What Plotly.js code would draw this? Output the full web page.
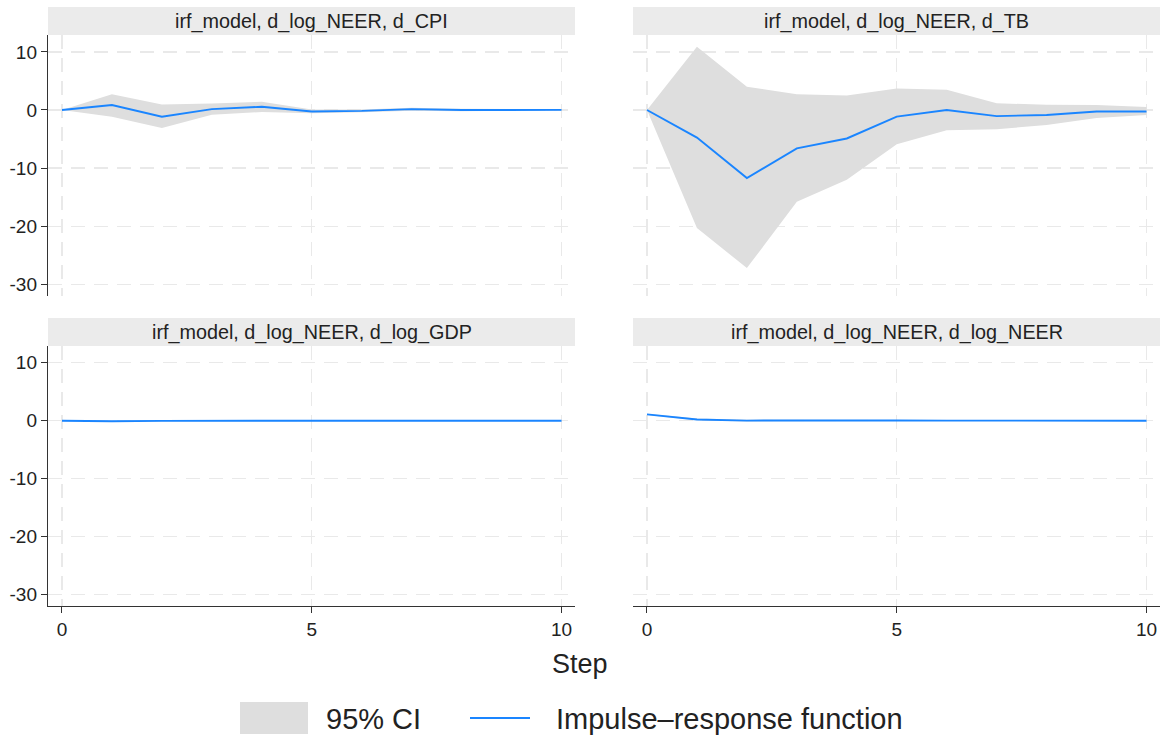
<!DOCTYPE html>
<html>
<head>
<meta charset="utf-8">
<script src="https://cdn.plot.ly/plotly-3.0.1.min.js"></script>
<style>html,body{margin:0;padding:0;background:#fff;}#chart{width:1164px;height:740px;}</style>
</head>
<body>
<div id="chart"></div>
<script>
// ---- data ----
const steps = [0, 1, 2, 3, 4, 5, 6, 7, 8, 9, 10];
const panelTitles = ["irf_model, d_log_NEER, d_CPI", "irf_model, d_log_NEER, d_TB",
                     "irf_model, d_log_NEER, d_log_GDP", "irf_model, d_log_NEER, d_log_NEER"];
const cpiIrf = [0, 0.85, -1.15, 0.15, 0.55, -0.25, -0.15, 0.15, 0.0, -0.02, 0.02];
const cpiLo  = [0, -1.15, -3.1, -0.8, -0.35, -0.55, -0.4, -0.15, -0.2, -0.15, -0.1];
const cpiHi  = [0, 2.7, 0.95, 1.1, 1.4, 0.1, 0.1, 0.4, 0.2, 0.12, 0.12];
const tbIrf  = [0, -4.75, -11.7, -6.6, -4.9, -1.15, 0, -1.05, -0.85, -0.25, -0.25];
const tbLo   = [0, -20.3, -27.2, -15.8, -12.0, -5.9, -3.5, -3.3, -2.6, -1.4, -0.85];
const tbHi   = [0, 10.9, 4.0, 2.7, 2.5, 3.7, 3.5, 1.15, 0.9, 0.85, 0.5];
const gdpIrf = [0, -0.1, -0.03, 0.0, 0.01, 0.0, 0.0, 0.0, 0.0, 0.0, 0.0];
const gdpLo  = [0, -0.18, -0.1, -0.06, -0.05, -0.04, -0.03, -0.03, -0.02, -0.02, -0.02];
const gdpHi  = [0, -0.02, 0.04, 0.06, 0.07, 0.04, 0.03, 0.03, 0.02, 0.02, 0.02];
const neerIrf = [1.1, 0.22, 0.02, 0.06, 0.08, 0.04, 0.02, 0.01, 0.01, 0.0, 0.0];
const neerLo  = [1.0, 0.08, -0.12, -0.05, -0.03, -0.04, -0.04, -0.03, -0.02, -0.02, -0.01];
const neerHi  = [1.2, 0.36, 0.16, 0.17, 0.19, 0.12, 0.08, 0.05, 0.04, 0.02, 0.01];
const xTicks = [0, 5, 10];
const yTicks = [-30, -20, -10, 0, 10];
const yTickText = ["-30", "-20", "-10", "0", "10"];
const legendLabels = ["95% CI", "Impulse\u2013response function"];
const xTitle = "Step";

// ---- style ----
const FONT = "Liberation Sans, Arial, sans-serif";
const LINE = "#1a85ff";
const BAND = "#dedede";
const GRID = "#e9e9e9";
const W = 1164, H = 740;

const panels = [
  {irf: cpiIrf, lo: cpiLo, hi: cpiHi},
  {irf: tbIrf, lo: tbLo, hi: tbHi},
  {irf: gdpIrf, lo: gdpLo, hi: gdpHi},
  {irf: neerIrf, lo: neerLo, hi: neerHi}
];
// pixel boxes [x0,x1,y0,y1] of plot areas
const boxes = [[48, 575, 35, 296], [633, 1160, 35, 296], [48, 575, 346, 606], [633, 1160, 346, 606]];

const traces = [];
const layout = {
  width: W, height: H, margin: {l: 0, r: 0, t: 0, b: 0},
  paper_bgcolor: "#fff", plot_bgcolor: "#fff", showlegend: false,
  font: {family: FONT, color: "#222"},
  shapes: [], annotations: []
};

panels.forEach((p, i) => {
  const n = i + 1;
  const xa = n === 1 ? "x" : "x" + n, ya = n === 1 ? "y" : "y" + n;
  traces.push({x: steps, y: p.lo, xaxis: xa, yaxis: ya, type: "scatter", mode: "lines",
               line: {width: 0, color: BAND}, hoverinfo: "skip"});
  traces.push({x: steps, y: p.hi, xaxis: xa, yaxis: ya, type: "scatter", mode: "lines",
               fill: "tonexty", fillcolor: BAND, line: {width: 0, color: BAND}, hoverinfo: "skip"});
  traces.push({x: steps, y: p.irf, xaxis: xa, yaxis: ya, type: "scatter", mode: "lines",
               line: {width: 1.9, color: LINE}});
  const b = boxes[i];
  const left = (i % 2 === 0), bottom = (i >= 2);
  layout[n === 1 ? "xaxis" : "xaxis" + n] = {
    domain: [b[0] / W, b[1] / W], anchor: ya, range: [-0.28, 10.27],
    tickvals: xTicks, showticklabels: bottom, ticks: bottom ? "outside" : "", ticklen: 6,
    tickcolor: "#333", showline: bottom, linecolor: "#333", linewidth: 1.2,
    showgrid: true, gridcolor: GRID, griddash: "14px,9px", gridwidth: 1.3, zeroline: false,
    tickfont: {size: 19, family: FONT, color: "#222"}
  };
  layout[n === 1 ? "yaxis" : "yaxis" + n] = {
    domain: [1 - b[3] / H, 1 - b[2] / H], anchor: xa, range: [-32, 12.9],
    tickvals: yTicks, ticktext: yTickText, showticklabels: left, ticks: left ? "outside" : "", ticklen: 6,
    tickcolor: "#333", showline: left, linecolor: "#333", linewidth: 1.2,
    showgrid: true, gridcolor: GRID, griddash: "14px,9px", gridwidth: 1.3, zeroline: false,
    tickfont: {size: 19, family: FONT, color: "#222"}
  };
  // title strip
  layout.shapes.push({type: "rect", xref: "paper", yref: "paper", layer: "below",
    x0: b[0] / W, x1: b[1] / W, y0: 1 - b[2] / H, y1: 1 - (b[2] - 28) / H,
    fillcolor: "#ebebeb", line: {width: 0}});
  layout.annotations.push({xref: "paper", yref: "paper", x: (b[0] + b[1]) / 2 / W,
    y: 1 - (b[2] - 14) / H, xanchor: "center", yanchor: "middle", showarrow: false,
    text: panelTitles[i], font: {size: 19.8, family: FONT, color: "#222"}});
});

// x title
layout.annotations.push({xref: "paper", yref: "paper", x: 580 / W, y: 1 - 664 / H,
  xanchor: "center", yanchor: "middle", showarrow: false, text: xTitle,
  font: {size: 27, family: FONT, color: "#222"}});
// legend
layout.shapes.push({type: "rect", xref: "paper", yref: "paper", x0: 240 / W, x1: 308 / W,
  y0: 1 - 734 / H, y1: 1 - 702 / H, fillcolor: BAND, line: {width: 0}});
layout.shapes.push({type: "line", xref: "paper", yref: "paper", x0: 470 / W, x1: 530 / W,
  y0: 1 - 718 / H, y1: 1 - 718 / H, line: {color: LINE, width: 2}});
layout.annotations.push({xref: "paper", yref: "paper", x: 324 / W, y: 1 - 719 / H,
  xanchor: "left", yanchor: "middle", showarrow: false, text: legendLabels[0],
  font: {size: 29, family: FONT, color: "#222"}});
layout.annotations.push({xref: "paper", yref: "paper", x: 554 / W, y: 1 - 719 / H,
  xanchor: "left", yanchor: "middle", showarrow: false, text: legendLabels[1],
  font: {size: 29, family: FONT, color: "#222"}});

Plotly.newPlot("chart", traces, layout, {staticPlot: true});
</script>
</body>
</html>
